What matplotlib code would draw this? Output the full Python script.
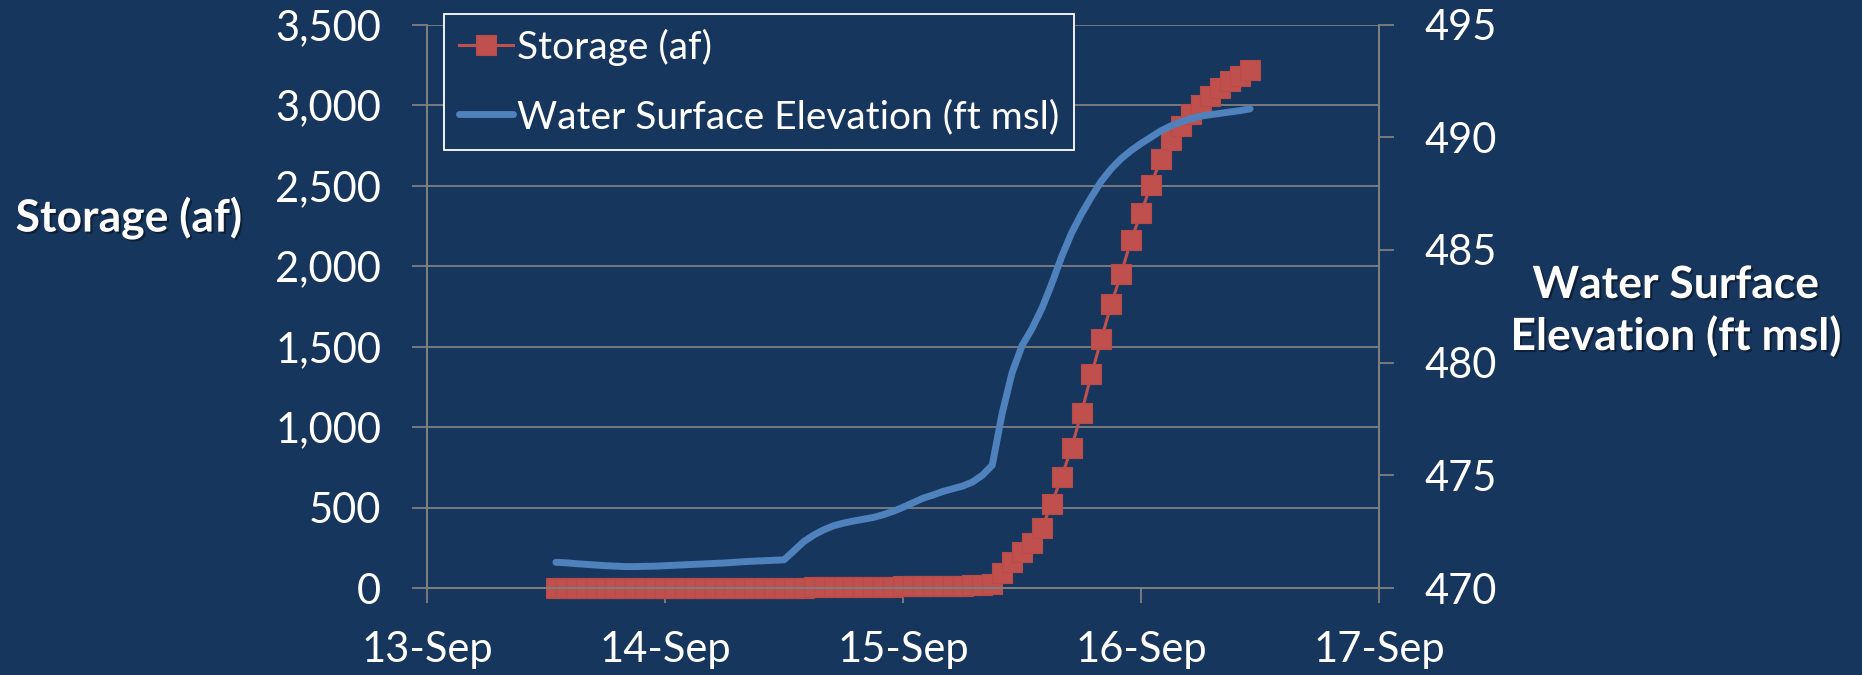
import matplotlib
matplotlib.use('Agg')
import matplotlib.pyplot as plt
import matplotlib.dates as mdates
import matplotlib.ticker as mticker
import matplotlib.patheffects as pe
import pandas as pd

plt.rcParams['font.family'] = ['Lato', 'DejaVu Sans']

# hourly readings, starting 13-Sep 13:00
start = '2008-09-13 13:00'
storage = [0, 0, 0, 0, 0, 0, 0, 0, 0, 0, 0, 0, 0, 0, 0, 0, 0, 0, 0, 0,
           0, 0, 0, 0, 0, 0, 8, 8, 8, 8, 8, 8, 8, 8, 8, 14, 14, 14, 14, 14,
           14, 14, 20, 20, 25, 93, 162, 224, 280, 374, 523, 691, 872, 1090, 1327,
           1545, 1763, 1953, 2161, 2327, 2505, 2663, 2782, 2870, 2944, 3000,
           3058, 3103, 3146, 3183, 3216]
elevation = [471.14, 471.12, 471.08, 471.05, 471.02, 470.99, 470.97, 470.95, 470.95, 470.96,
             470.97, 470.99, 471.01, 471.03, 471.05, 471.07, 471.09, 471.11, 471.14, 471.17,
             471.19, 471.21, 471.23, 471.25, 471.65, 472.06, 472.35, 472.58, 472.76, 472.88,
             472.97, 473.05, 473.13, 473.25, 473.40, 473.58, 473.78, 473.98, 474.12, 474.28,
             474.40, 474.52, 474.70, 475.00, 475.45, 477.75, 479.55, 480.75, 481.50, 482.40,
             483.50, 484.70, 485.75, 486.60, 487.35, 488.05, 488.60, 489.05, 489.41, 489.72,
             490.00, 490.28, 490.50, 490.67, 490.82, 490.93, 491.00, 491.06, 491.12, 491.18,
             491.26]
times = pd.date_range(start, periods=len(storage), freq='h')

bg = '#17365D'
red = '#C0504D'
blue = '#4F81BD'
gray = '#7F7F7F'

fig = plt.figure(figsize=(18.62, 6.75), dpi=100, facecolor=bg)
ax = fig.add_axes([427 / 1862, 1 - 588 / 675, 952 / 1862, (588 - 24.5) / 675])
ax.set_facecolor(bg)
ax2 = ax.twinx()

l1, = ax.plot(times, storage, color=red, lw=2.2, marker='s', ms=14.5,
              mfc=red, mec='#B94B48', mew=0.8, label='Storage (af)', clip_on=False)
l2, = ax2.plot(times, elevation, color=blue, lw=5, solid_capstyle='round',
               solid_joinstyle='round', label='Water Surface Elevation (ft msl)')

ax.set_xlim(pd.Timestamp('2008-09-13'), pd.Timestamp('2008-09-17'))
ax.set_ylim(0, 3500)
ax2.set_ylim(470, 495)
ax.set_yticks(range(0, 3501, 500))
ax2.set_yticks(range(470, 496, 5))
ax.yaxis.set_major_formatter(mticker.StrMethodFormatter('{x:,.0f}'))
ax.xaxis.set_major_locator(mdates.DayLocator())
ax.xaxis.set_major_formatter(mdates.DateFormatter('%d-%b'))

ax.grid(axis='y', color=gray, lw=1.3)
ax.set_axisbelow(True)
for a in (ax, ax2):
    a.spines['top'].set_visible(False)
    for s in ('left', 'right', 'bottom'):
        a.spines[s].set_color(gray)
        a.spines[s].set_linewidth(1.3)
    a.tick_params(colors='white', labelsize=30, length=11, width=1.3, pad=22)
    a.tick_params(axis='both', color=gray)
ax.tick_params(axis='x', pad=20)

shadow = [pe.withSimplePatchShadow(offset=(1.5, -1.5), shadow_rgbFace='black', alpha=0.4)]
fig.text(129 / 1862, 1 - 218 / 675, 'Storage (af)', color='white', fontsize=32,
         fontweight='bold', ha='center', va='center', path_effects=shadow)
fig.text(1676 / 1862, 1 - 311 / 675, 'Water Surface\nElevation (ft msl)', color='white',
         fontsize=32, fontweight='bold', ha='center', va='center', linespacing=1.3,
         path_effects=shadow)

leg = ax2.legend(handles=[l1, l2], loc='upper left', bbox_to_anchor=(444 / 1862, 1 - 14 / 675),
                 bbox_transform=fig.transFigure, fontsize=28, frameon=True, fancybox=False,
                 borderpad=0.38, labelspacing=0.85, handlelength=1.4, handletextpad=0.1,
                 borderaxespad=0)
leg.get_frame().set_facecolor(bg)
leg.get_frame().set_edgecolor('white')
leg.get_frame().set_linewidth(1.3)
leg.get_frame().set_alpha(1)
for t in leg.get_texts():
    t.set_color('white')

fig.savefig('out.png', dpi=100, facecolor=bg)
